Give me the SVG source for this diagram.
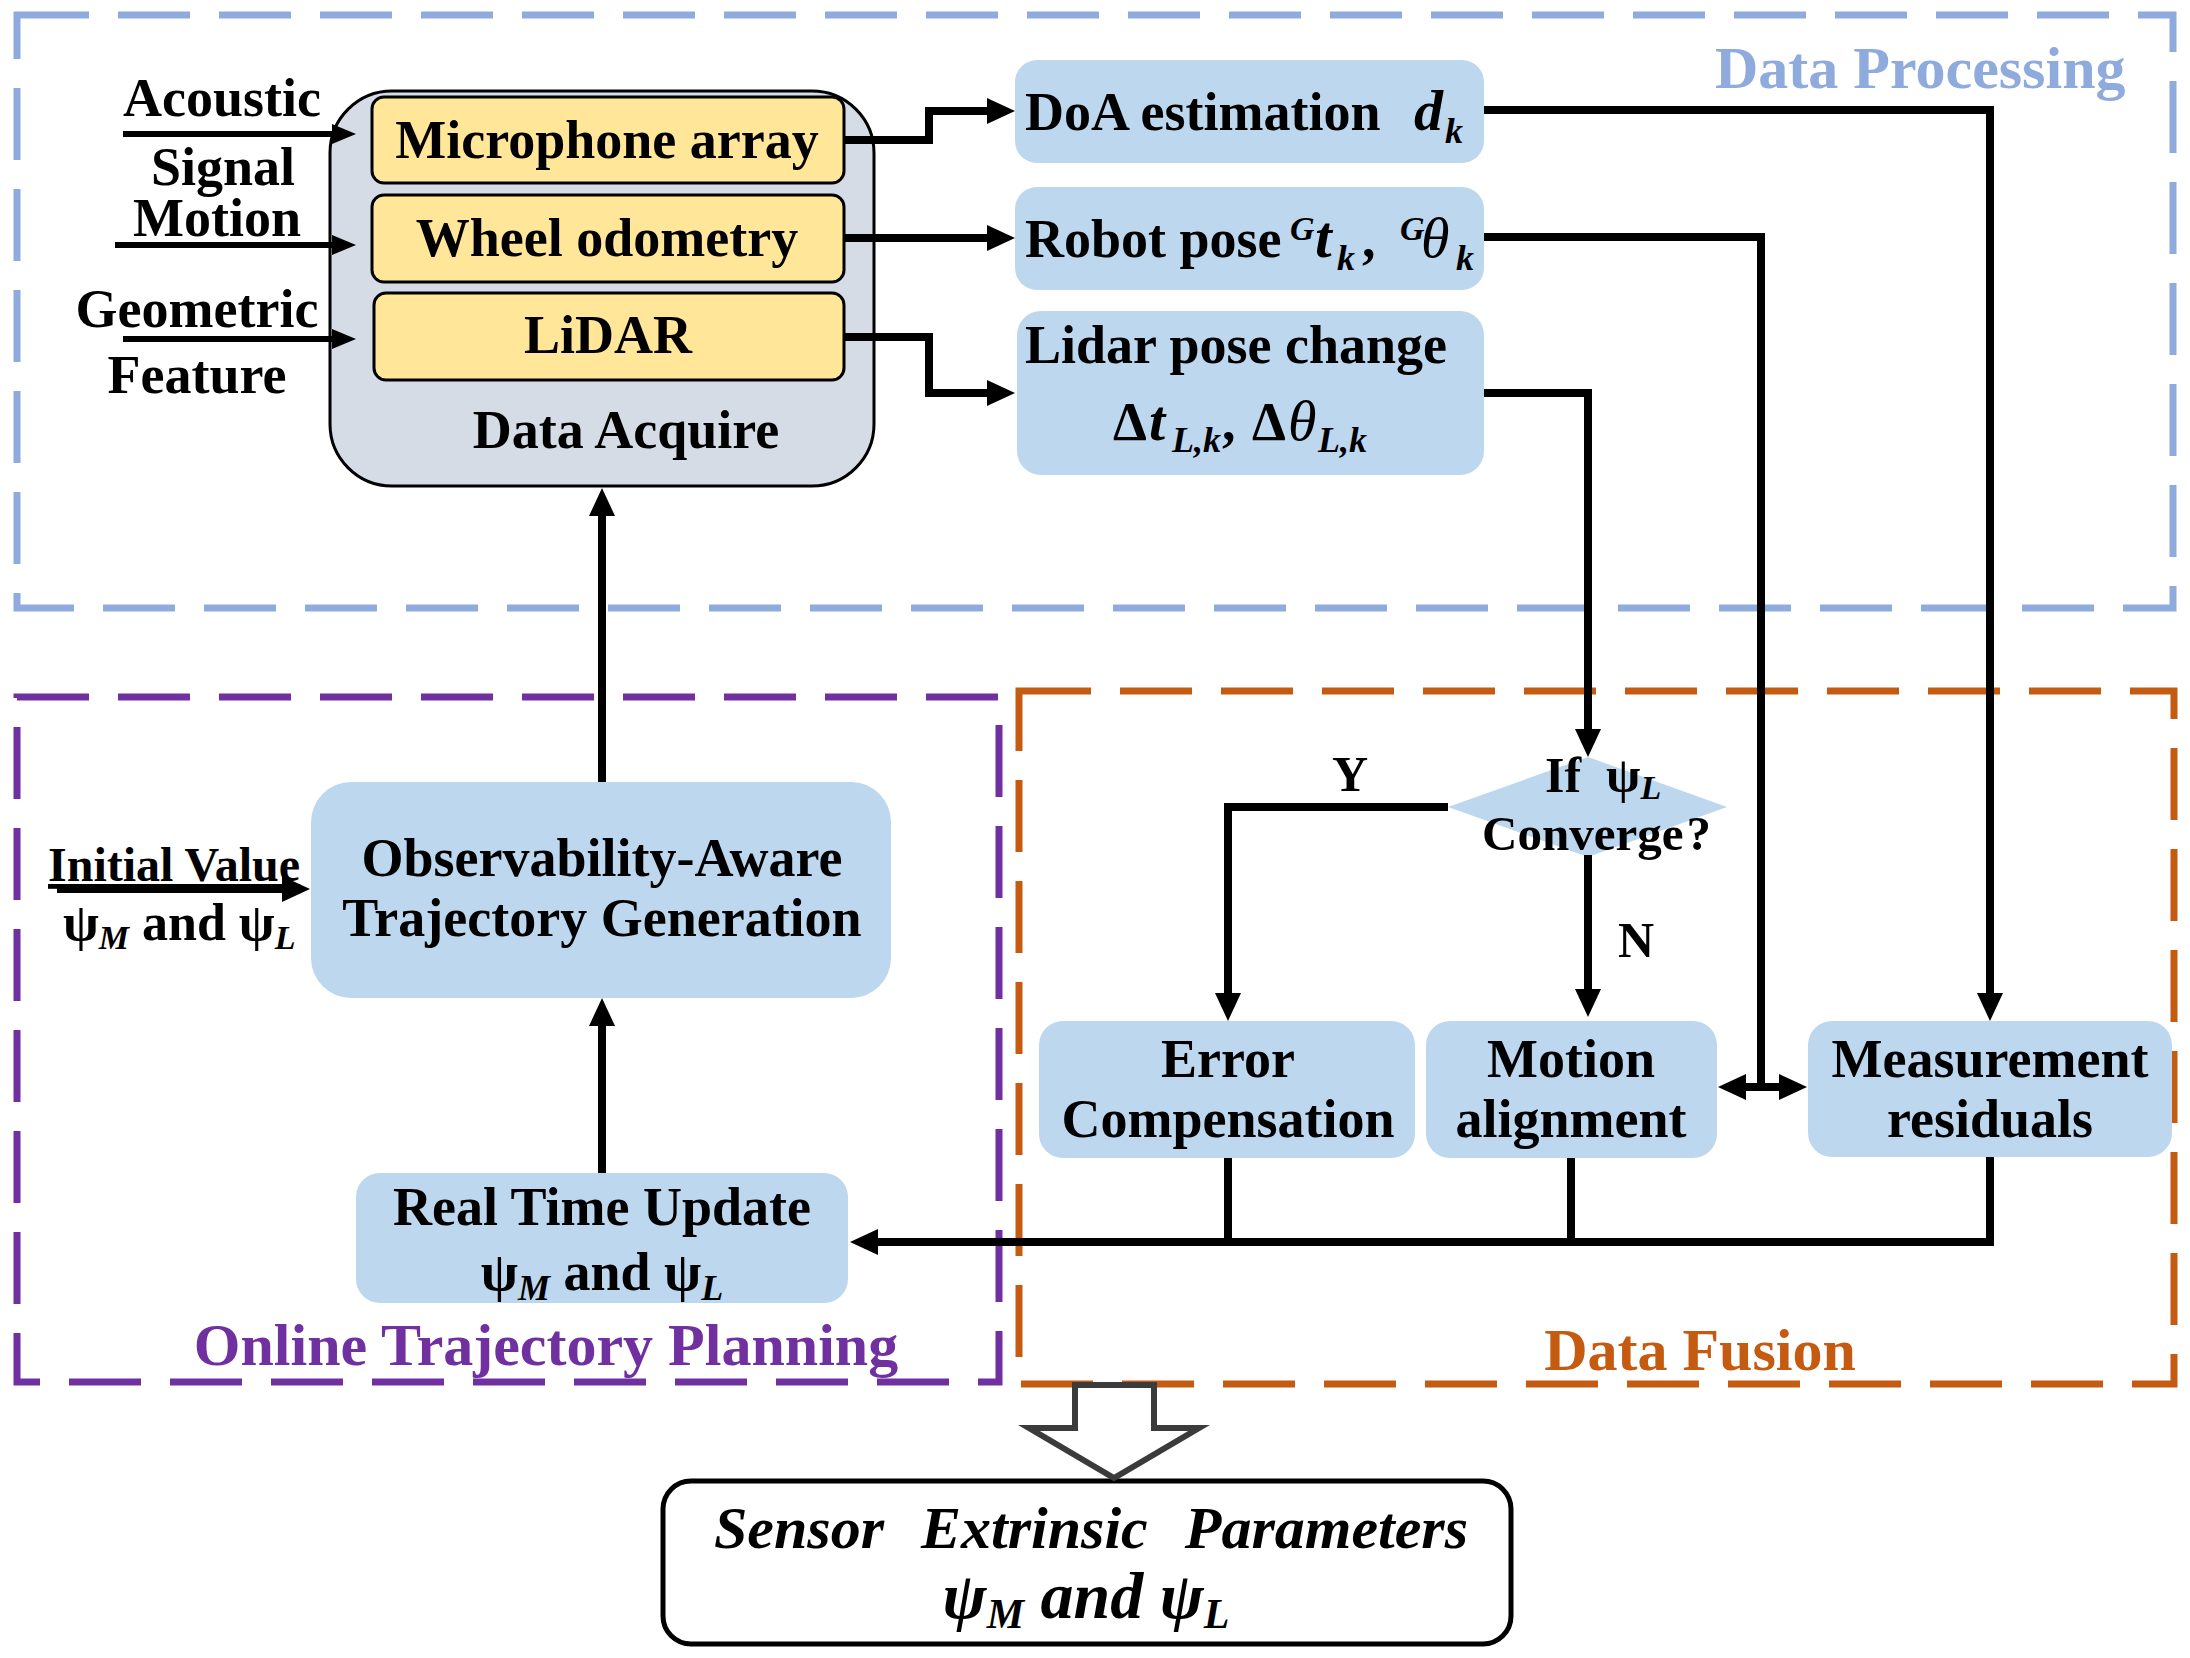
<svg xmlns="http://www.w3.org/2000/svg" width="2190" height="1658" viewBox="0 0 2190 1658">
<defs>
<style>
.t{font-family:"Liberation Serif","Times New Roman",serif;font-weight:bold;font-size:54px;fill:#000}
.c{text-anchor:middle}
.bi{font-style:italic;font-weight:bold}
.it{font-style:italic;font-weight:normal}
.sub{font-size:36px;font-style:italic}
.sup{font-size:34px;font-style:italic}
.blue{fill:#BDD7EE}
.yel{fill:#FFE699;stroke:#000;stroke-width:3}
.dash{fill:none;stroke-width:7;stroke-dasharray:72 29}
.ln{fill:none;stroke:#000;stroke-width:8;stroke-linejoin:miter}
.lns{fill:none;stroke:#000;stroke-width:6}
.lbl{font-family:"Liberation Serif","Times New Roman",serif;font-weight:bold;font-size:60px}
</style>
<marker id="ah" markerUnits="userSpaceOnUse" viewBox="0 0 28 26" markerWidth="28" markerHeight="26" refX="8" refY="13" orient="auto-start-reverse"><path d="M0,0 L28,13 L0,26 z" fill="#000"/></marker>
<marker id="ahs" markerUnits="userSpaceOnUse" viewBox="0 0 24 20" markerWidth="24" markerHeight="20" refX="6" refY="10" orient="auto"><path d="M0,0 L24,10 L0,20 z" fill="#000"/></marker>
</defs>
<rect width="2190" height="1658" fill="#fff"/>

<g id="group-data-processing">
<rect class="dash" x="17" y="15" width="2156" height="593" stroke="#8FAADC"/>
<text class="lbl" x="1715" y="88" fill="#8FAADC">Data Processing</text>
</g>
<g id="group-online-trajectory-planning">
<rect class="dash" x="17" y="697" width="982" height="685" stroke="#7030A0"/>
<text class="lbl c" x="546" y="1365" fill="#7030A0">Online Trajectory Planning</text>
</g>
<g id="group-data-fusion">
<rect class="dash" x="1019" y="691" width="1155" height="693" stroke="#C55A11"/>
<text class="lbl c" x="1700" y="1370" fill="#C55A11">Data Fusion</text>
</g>

<g id="input-labels">
<text class="t c" x="222" y="116">Acoustic</text>
<text class="t c" x="223" y="185">Signal</text>
<text class="t c" x="217" y="236">Motion</text>
<text class="t c" x="197" y="327">Geometric</text>
<text class="t c" x="197" y="393">Feature</text>
</g>

<g id="data-acquire">
<rect x="330" y="91" width="544" height="395" rx="62" fill="#D6DCE5" stroke="#000" stroke-width="3"/>
<text class="t c" x="626" y="448">Data Acquire</text>
</g>
<g id="microphone-array">
<rect class="yel" x="372" y="97" width="472" height="86" rx="12"/>
<text class="t c" x="607" y="158">Microphone array</text>
</g>
<g id="wheel-odometry">
<rect class="yel" x="372" y="195" width="472" height="87" rx="12"/>
<text class="t c" x="607" y="256">Wheel odometry</text>
</g>
<g id="lidar">
<rect class="yel" x="374" y="293" width="470" height="87" rx="12"/>
<text class="t c" x="608" y="353">LiDAR</text>
</g>

<g id="doa-estimation">
<rect class="blue" x="1015" y="60" width="469" height="103" rx="22"/>
<text class="t" x="1025" y="130">DoA estimation<tspan class="bi" x="1414" style="font-size:58px">d</tspan><tspan class="sub bi" x="1445" y="143">k</tspan></text>
</g>
<g id="robot-pose">
<rect class="blue" x="1015" y="187" width="469" height="103" rx="22"/>
<text class="t" x="1025" y="257">Robot pose<tspan class="sup bi" x="1290" y="240">G</tspan><tspan class="bi" x="1315" y="257" style="font-size:60px">t</tspan><tspan class="sub bi" x="1337" y="270">k</tspan><tspan x="1362" y="257">,</tspan><tspan class="sup bi" x="1400" y="240">G</tspan><tspan class="it" x="1421" y="257" style="font-size:58px">θ</tspan><tspan class="sub bi" x="1456" y="270">k</tspan></text>
</g>
<g id="lidar-pose-change">
<rect class="blue" x="1017" y="311" width="467" height="164" rx="24"/>
<text class="t" x="1025" y="363">Lidar pose change</text>
<text class="t" x="1113" y="440">Δ<tspan class="bi" x="1149" style="font-size:58px">t</tspan><tspan class="sub bi" x="1172" y="452">L,k</tspan><tspan x="1222" y="440">,</tspan><tspan x="1252">Δ</tspan><tspan class="it" x="1288" style="font-size:58px">θ</tspan><tspan class="sub bi" x="1318" y="452">L,k</tspan></text>
</g>

<g id="observability-aware-trajectory-generation">
<rect class="blue" x="311" y="782" width="580" height="216" rx="40"/>
<text class="t c" x="602" y="876">Observability-Aware</text>
<text class="t c" x="602" y="936">Trajectory Generation</text>
</g>
<g id="initial-value">
<text class="t" x="48" y="881" style="font-size:48px" text-decoration="underline">Initial Value</text>
<text class="t" x="63" y="940" style="font-size:52px">ψ<tspan class="sub" style="font-size:34px" dy="9">M</tspan><tspan dy="-9"> and ψ</tspan><tspan class="sub" style="font-size:34px" dy="9">L</tspan></text>
</g>
<g id="real-time-update">
<rect class="blue" x="356" y="1173" width="492" height="130" rx="24"/>
<text class="t c" x="602" y="1225">Real Time Update</text>
<text class="t c" x="602" y="1290">ψ<tspan class="sub" dy="10">M</tspan><tspan dy="-10"> and ψ</tspan><tspan class="sub" dy="10">L</tspan></text>
</g>

<g id="converge-decision">
<polygon class="blue" points="1448,807 1588,757 1727,807 1588,857"/>
<text class="t" x="1545" y="792" style="font-size:50px">If<tspan x="1606">ψ</tspan><tspan class="sub" style="font-size:34px" dy="7">L</tspan></text>
<text class="t" x="1482" y="850" style="font-size:49px">Converge<tspan dx="3">?</tspan></text>
</g>
<g id="error-compensation">
<rect class="blue" x="1039" y="1021" width="376" height="137" rx="24"/>
<text class="t c" x="1228" y="1077">Error</text>
<text class="t c" x="1228" y="1137">Compensation</text>
</g>
<g id="motion-alignment">
<rect class="blue" x="1426" y="1021" width="291" height="137" rx="24"/>
<text class="t c" x="1571" y="1077">Motion</text>
<text class="t c" x="1571" y="1137">alignment</text>
</g>
<g id="measurement-residuals">
<rect class="blue" x="1808" y="1021" width="364" height="136" rx="24"/>
<text class="t c" x="1990" y="1077">Measurement</text>
<text class="t c" x="1990" y="1137">residuals</text>
</g>

<g id="sensor-extrinsic-parameters">
<rect x="663" y="1481" width="848" height="163" rx="28" fill="#fff" stroke="#000" stroke-width="5"/>
<text class="t c bi" x="1091" y="1548" style="font-size:60px;word-spacing:22px">Sensor Extrinsic Parameters</text>
<text class="t c bi" x="1086" y="1618" style="font-size:66px">ψ<tspan class="sub" style="font-size:42px" dy="10">M</tspan><tspan dy="-10"> and ψ</tspan><tspan class="sub" style="font-size:42px" dy="10">L</tspan></text>
</g>

<g id="connectors">
<path class="lns" d="M123,134 H338" marker-end="url(#ahs)"/>
<path class="lns" d="M115,245 H338" marker-end="url(#ahs)"/>
<path class="lns" d="M123,339 H338" marker-end="url(#ahs)"/>
<path class="ln" d="M844,140 H929 V111 H995" marker-end="url(#ah)"/>
<path class="ln" d="M844,238 H995" marker-end="url(#ah)"/>
<path class="ln" d="M844,337 H929 V393 H995" marker-end="url(#ah)"/>
<path class="ln" d="M1484,110 H1990 V1001" marker-end="url(#ah)"/>
<path class="ln" d="M1484,237 H1761 V1087"/>
<path class="ln" d="M1738,1087 H1787" marker-start="url(#ah)" marker-end="url(#ah)"/>
<path class="ln" d="M1484,393 H1588 V737" marker-end="url(#ah)"/>
<path class="ln" d="M1448,807 H1228 V1001" marker-end="url(#ah)"/>
<text class="t" x="1332" y="791" style="font-size:50px">Y</text>
<path class="ln" d="M1588,855 V997" marker-end="url(#ah)"/>
<text class="t" x="1618" y="957" style="font-size:50px">N</text>
<path class="ln" d="M1228,1158 V1246"/>
<path class="ln" d="M1571,1158 V1246"/>
<path class="ln" d="M1990,1157 V1242 H870" marker-end="url(#ah)"/>
<path class="ln" d="M602,1173 V1018" marker-end="url(#ah)"/>
<path class="ln" d="M602,782 V508" marker-end="url(#ah)"/>
<path class="ln" d="M57,889 H290" marker-end="url(#ah)"/>
<polygon points="1075,1385 1154,1385 1154,1428 1199,1428 1114,1478 1029,1428 1075,1428" fill="#fff" stroke="#3B3B3B" stroke-width="6"/>
</g>
</svg>
